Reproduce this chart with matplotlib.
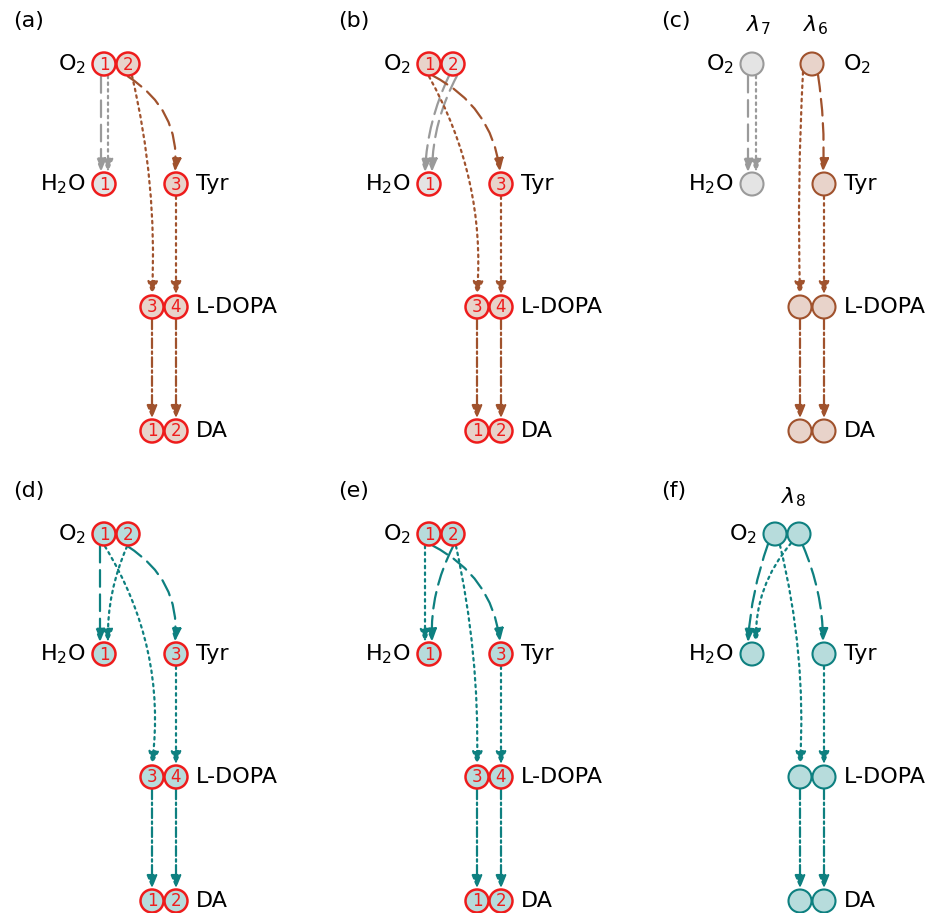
import numpy as np
import matplotlib.pyplot as plt
from matplotlib.patches import Circle, FancyArrowPatch

# dash lengths given in points, not multiples of the line width
plt.rcParams["lines.scale_dashes"] = False

# text of the figure
panel_tags = ["(a)", "(b)", "(c)", "(d)", "(e)", "(f)"]
o2_label = "O$_2$"
h2o_label = "H$_2$O"
tyr_label = "Tyr"
ldopa_label = "L-DOPA"
da_label = "DA"
lambda_c = [r"$\lambda_7$", r"$\lambda_6$"]
lambda_f = [r"$\lambda_8$"]

# oxygen atom numbers written inside the nodes (panels a, b, d, e)
o2_nums = ["1", "2"]
h2o_nums = ["1"]
tyr_nums = ["3"]
ldopa_nums = ["3", "4"]
da_nums = ["1", "2"]

node_nums = {"O2a": o2_nums[0], "O2b": o2_nums[1], "H2O": h2o_nums[0],
             "Tyr": tyr_nums[0], "LDa": ldopa_nums[0], "LDb": ldopa_nums[1],
             "DAa": da_nums[0], "DAb": da_nums[1]}

# which colour each node gets, per panel
fill_a = {"O2a": "g", "O2b": "b", "H2O": "g", "Tyr": "b", "LDa": "b", "LDb": "b", "DAa": "b", "DAb": "b"}
fill_b = {"O2a": "b", "O2b": "g", "H2O": "g", "Tyr": "b", "LDa": "b", "LDb": "b", "DAa": "b", "DAb": "b"}
fill_c = {"O2a": "g", "O2b": "b", "H2O": "g", "Tyr": "b", "LDa": "b", "LDb": "b", "DAa": "b", "DAb": "b"}
fill_t = {k: "t" for k in node_nums}

# edges: source, target, colour, line style, arc rad, start / end x shift
tail = [("Tyr", "LDb", "dot", 0.0, 0, 0),
        ("LDa", "DAa", "dashdot", 0.0, 0, 0),
        ("LDb", "DAb", "dashdot", 0.0, 0, 0)]
edges_a = [("O2a", "H2O", "g", "dash", 0.0, -3, -3),
           ("O2a", "H2O", "g", "dot", 0.0, 4, 4),
           ("O2b", "Tyr", "b", "dash", -0.3, 0, -1),
           ("O2b", "LDa", "b", "dot", -0.07, 4, 0)] + [(s, t, "b", st, r, d0, d1) for s, t, st, r, d0, d1 in tail]
edges_b = [("O2b", "H2O", "g", "dash", 0.1, -4, -4),
           ("O2b", "H2O", "g", "dash", 0.12, 4, 3),
           ("O2a", "Tyr", "b", "dash", -0.26, 4, -1),
           ("O2a", "LDa", "b", "dot", -0.15, 0, 0)] + [(s, t, "b", st, r, d0, d1) for s, t, st, r, d0, d1 in tail]
edges_c = [("O2a", "H2O", "g", "dash", 0.0, -4, -4),
           ("O2a", "H2O", "g", "dot", 0.0, 4, 4),
           ("O2b", "LDa", "b", "dot", 0.02, -9, 0),
           ("O2b", "Tyr", "b", "dash", -0.05, 6, -1)] + [(s, t, "b", st, r, d0, d1) for s, t, st, r, d0, d1 in tail]
edges_d = [("O2a", "H2O", "t", "dash", 0.0, -4, -4),
           ("O2b", "H2O", "t", "dot", 0.11, -1, 4),
           ("O2a", "LDa", "t", "dot", -0.175, 1, 0),
           ("O2b", "Tyr", "t", "dash", -0.3, 0, -1)] + [(s, t, "t", st, r, d0, d1) for s, t, st, r, d0, d1 in tail]
edges_e = [("O2a", "H2O", "t", "dot", 0.0, -4, -4),
           ("O2b", "H2O", "t", "dash", 0.13, 0, 3),
           ("O2a", "Tyr", "t", "dash", -0.26, 4, -1),
           ("O2b", "LDa", "t", "dot", -0.06, 3, 0)] + [(s, t, "t", st, r, d0, d1) for s, t, st, r, d0, d1 in tail]
edges_f = [("O2a", "H2O", "t", "dash", 0.07, -7, -4),
           ("O2b", "H2O", "t", "dot", 0.19, -8, 4),
           ("O2a", "LDa", "t", "dot", -0.075, 5, 0),
           ("O2b", "Tyr", "t", "dash", -0.1, 4, -1)] + [(s, t, "t", st, r, d0, d1) for s, t, st, r, d0, d1 in tail]

# colours
line_col = {"g": "#9a9a9a", "b": "#a0522d", "t": "#0e8080"}
face_col = {"g": "#e4e4e4", "b": "#e8d3ca", "t": "#b7dcdc"}
red = "#ee1c1c"
styles = {"dash": (0, (12, 5.5)), "dot": (0, (1.8, 3.0)), "dashdot": (0, (7, 2.4, 1.8, 2.4))}

# layout in pixels, relative to each panel's first O2 node
base_pos = {"O2a": (0, 0), "O2b": (24, 0), "H2O": (0, 120), "Tyr": (72, 120),
            "LDa": (48, 243), "LDb": (72, 243), "DAa": (48, 367), "DAb": (72, 367)}
pos_c = dict(base_pos, O2b=(60, 0))
pos_f = dict(base_pos, O2a=(23, 0), O2b=(47, 0))

panels = [
    # origin, layout, fills, edges, numbered (red rims)
    ((104, 64), base_pos, fill_a, edges_a, True),
    ((429, 64), base_pos, fill_b, edges_b, True),
    ((752, 64), pos_c, fill_c, edges_c, False),
    ((104, 534), base_pos, fill_t, edges_d, True),
    ((429, 534), base_pos, fill_t, edges_e, True),
    ((752, 534), pos_f, fill_t, edges_f, False),
]
R = 11.5

fig = plt.figure(figsize=(9.37, 9.13), dpi=100)
ax = fig.add_axes([0, 0, 1, 1])
ax.set_xlim(0, 937)
ax.set_ylim(913, 0)
ax.axis("off")

for i, (org, lay, fills, edges, numbered) in enumerate(panels):
    P = {k: (org[0] + v[0], org[1] + v[1]) for k, v in lay.items()}

    ax.text(org[0] - 91, org[1] - 43, panel_tags[i], fontsize=16, ha="left", va="center")

    for s, t, c, st, rad, d0, d1 in edges:
        x0 = P[s][0] + d0
        y0 = P[s][1] + np.sqrt(R**2 - d0**2) + 1
        x1 = P[t][0] + d1
        y1 = P[t][1] - np.sqrt(R**2 - d1**2) - 1
        arr = FancyArrowPatch((x0, y0), (x1, y1),
                              arrowstyle="-|>,head_length=0.42,head_width=0.17",
                              mutation_scale=18, connectionstyle=f"arc3,rad={rad}",
                              color=line_col[c], lw=1.6, linestyle=styles[st],
                              shrinkA=0, shrinkB=0, zorder=1)
        ax.add_patch(arr)

    for k, (x, y) in P.items():
        edge = red if numbered else line_col[fills[k]]
        ax.add_patch(Circle((x, y), R, facecolor=face_col[fills[k]], edgecolor=edge,
                            lw=1.8 if numbered else 1.5, zorder=2))
        if numbered:
            ax.text(x, y + 0.5, node_nums[k], color=red, fontsize=12,
                    ha="center", va="center", zorder=3)

    # molecule names
    ax.text(P["O2a"][0] - 18, P["O2a"][1], o2_label, fontsize=16, ha="right", va="center")
    ax.text(P["H2O"][0] - 18, P["H2O"][1], h2o_label, fontsize=16, ha="right", va="center")
    ax.text(P["Tyr"][0] + 20, P["Tyr"][1], tyr_label, fontsize=16, ha="left", va="center")
    ax.text(P["LDb"][0] + 20, P["LDb"][1], ldopa_label, fontsize=16, ha="left", va="center")
    ax.text(P["DAb"][0] + 20, P["DAb"][1], da_label, fontsize=16, ha="left", va="center")

    if i == 2:
        ax.text(P["O2b"][0] + 31, P["O2b"][1], o2_label, fontsize=16, ha="left", va="center")
        ax.text(P["O2a"][0] + 6, P["O2a"][1] - 39, lambda_c[0], fontsize=16, ha="center", va="center")
        ax.text(P["O2b"][0] + 4, P["O2b"][1] - 39, lambda_c[1], fontsize=16, ha="center", va="center")
    if i == 5:
        mid = (P["O2a"][0] + P["O2b"][0]) / 2
        ax.text(mid + 6, P["O2a"][1] - 37, lambda_f[0], fontsize=16, ha="center", va="center")

fig.savefig("out.png", dpi=100)
